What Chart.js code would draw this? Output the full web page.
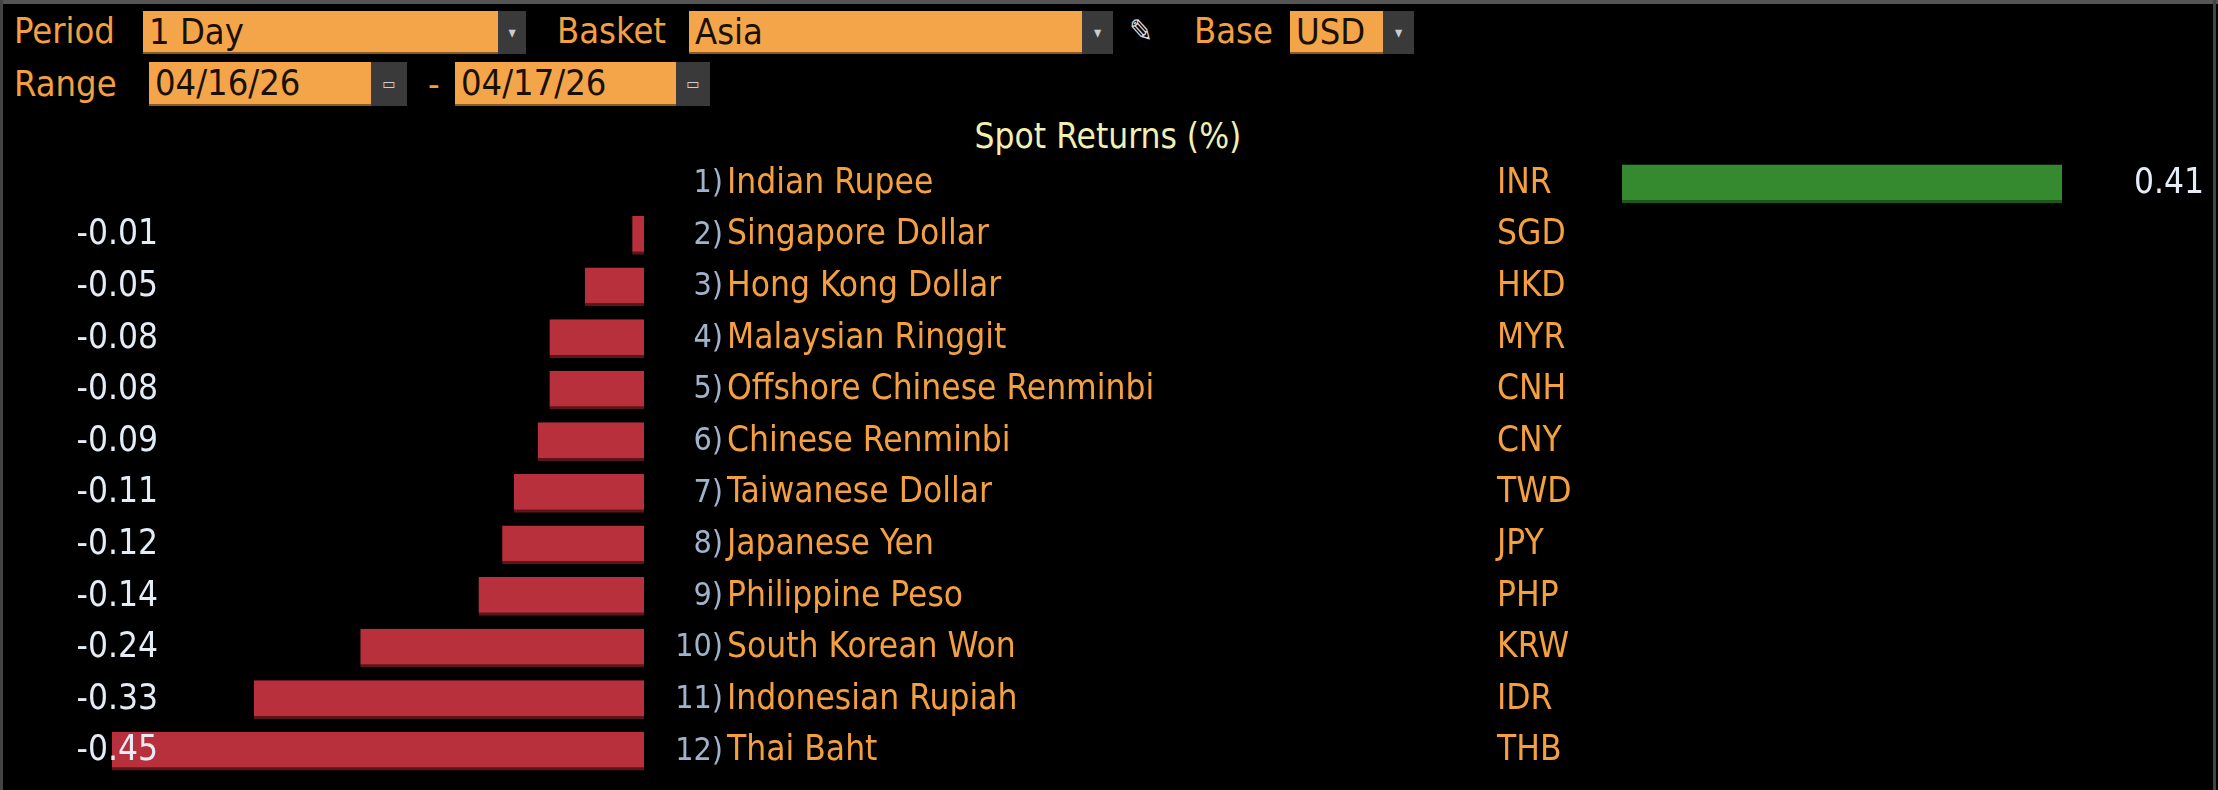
<!DOCTYPE html>
<html><head><meta charset="utf-8">
<script src="https://cdn.jsdelivr.net/npm/chart.js@4"></script>
<style>
html,body{margin:0;padding:0;background:#000;width:2218px;height:790px;overflow:hidden;font-family:'DejaVu Sans Condensed','DejaVu Sans',sans-serif}
.lbl{position:absolute;color:#f4a040;font-size:36px;line-height:40px}
.box{position:absolute;background:#f4a54a;color:#1a1000;font-size:36px;line-height:41px;padding-left:6px;box-sizing:border-box;border-bottom:2px solid #8a5a20}
.btn{position:absolute;background:#3a3a3a;color:#ccc;font-size:16px;text-align:center}
canvas{position:absolute;left:0;top:0}
#topline{position:absolute;left:0;top:0;width:2218px;height:4px;background:#555}
#leftline{position:absolute;left:0;top:0;width:3px;height:790px;background:#444}
#rightline{position:absolute;left:2213px;top:0;width:3px;height:790px;background:#444}
</style></head><body>
<div id="topline"></div><div id="leftline"></div><div id="rightline"></div>
<div class="lbl" style="left:14px;top:11px">Period</div>
<div class="box" style="left:143px;top:11px;width:355px;height:43px">1 Day</div>
<div class="btn" style="left:498px;top:11px;width:28px;height:43px;line-height:43px">▾</div>
<div class="lbl" style="left:557px;top:11px">Basket</div>
<div class="box" style="left:689px;top:11px;width:393px;height:43px">Asia</div>
<div class="btn" style="left:1082px;top:11px;width:31px;height:43px;line-height:43px">▾</div>
<div class="lbl" style="left:1129px;top:11px;color:#ddd;font-size:32px">✎</div>
<div class="lbl" style="left:1194px;top:11px">Base</div>
<div class="box" style="left:1290px;top:11px;width:93px;height:43px">USD</div>
<div class="btn" style="left:1383px;top:11px;width:31px;height:43px;line-height:43px">▾</div>
<div class="lbl" style="left:14px;top:64px">Range</div>
<div class="box" style="left:149px;top:62px;width:222px;height:44px">04/16/26</div>
<div class="btn" style="left:371px;top:62px;width:36px;height:44px;line-height:44px">▭</div>
<div class="lbl" style="left:428px;top:64px">-</div>
<div class="box" style="left:455px;top:62px;width:221px;height:44px">04/17/26</div>
<div class="btn" style="left:676px;top:62px;width:34px;height:44px;line-height:44px">▭</div>
<div class="lbl" style="left:0;top:116px;width:2218px;text-align:center;color:#f2f0b0;font-size:35px;padding-left:0">
<span style="position:absolute;left:1108px;transform:translateX(-50%);white-space:nowrap">Spot Returns (%)</span></div>
<canvas id="cL" width="2218" height="790"></canvas>
<canvas id="cR" width="2218" height="790"></canvas>
<script>
const names=['Indian Rupee','Singapore Dollar','Hong Kong Dollar','Malaysian Ringgit','Offshore Chinese Renminbi','Chinese Renminbi','Taiwanese Dollar','Japanese Yen','Philippine Peso','South Korean Won','Indonesian Rupiah','Thai Baht'];
const codes=['INR','SGD','HKD','MYR','CNH','CNY','TWD','JPY','PHP','KRW','IDR','THB'];
const returns=[0.41,-0.01,-0.05,-0.08,-0.08,-0.09,-0.11,-0.12,-0.14,-0.24,-0.33,-0.45];
const negVals=returns.map(v=>v<0?v:null);
const posVals=returns.map(v=>v>0?v:null);
const FONT="'DejaVu Sans Condensed','DejaVu Sans',sans-serif";
const textPlugin={id:'txt',afterDatasetsDraw(ch){
  const ctx=ch.ctx,ys=ch.scales.y;ctx.save();ctx.textBaseline='middle';
  names.forEach((n,i)=>{const y=ys.getPixelForValue(i);
    ctx.font='32px '+FONT;ctx.textAlign='right';ctx.fillStyle='#9fb4cc';ctx.fillText((i+1)+')',723,y);
    ctx.font='35px '+FONT;ctx.textAlign='left';ctx.fillStyle='#f4a040';ctx.fillText(n,727,y);ctx.fillText(codes[i],1497,y);
    if(returns[i]<0){ctx.textAlign='right';ctx.fillStyle='#e4ecf6';ctx.fillText(returns[i].toFixed(2),158,y);}
    else{ctx.textAlign='right';ctx.fillStyle='#e4ecf6';ctx.fillText(returns[i].toFixed(2),2204,y);}
  });ctx.restore();}};
function mk(id,data,min,max,pad,color,border,plugins){
  return new Chart(document.getElementById(id),{type:'bar',
    data:{labels:codes,datasets:[{data:data,backgroundColor:color,borderColor:border,borderWidth:{top:0,bottom:3,left:0,right:0},borderSkipped:false,barPercentage:0.75,categoryPercentage:1}]},
    options:{indexAxis:'y',responsive:false,animation:false,devicePixelRatio:1,
      layout:{padding:pad},
      plugins:{legend:{display:false},tooltip:{enabled:false}},
      scales:{x:{min:min,max:max,display:false},y:{display:false,offset:true}}},
    plugins:plugins});
}
mk('cL',negVals,-0.45,0,{left:112,right:1574,top:158,bottom:13},'#b7303c','#5a141a',[textPlugin]);
mk('cR',posVals,0,0.41,{left:1622,right:156,top:158,bottom:13},'#358a2f','#1d5a1a',[]);
</script></body></html>
